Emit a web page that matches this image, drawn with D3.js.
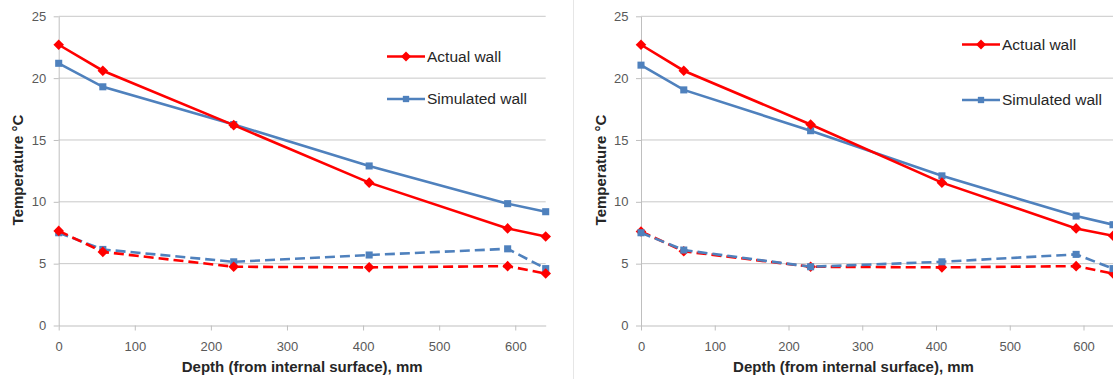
<!DOCTYPE html>
<html><head><meta charset="utf-8">
<script src="https://cdn.jsdelivr.net/npm/d3@7"></script>
<style>body{margin:0;background:#fff;}svg{display:block;font-family:"Liberation Sans",Arial,sans-serif;}</style>
</head><body>
<svg id="c" width="1113" height="379"></svg>
<script>
const depths = [0, 58, 230, 408, 590, 640];
const xTicks = [0, 100, 200, 300, 400, 500, 600];
const yTicks = [0, 5, 10, 15, 20, 25];
const seriesNames = ["Actual wall", "Simulated wall"];
// Left panel
const leftActualInner = [22.7, 20.6, 16.2, 11.55, 7.85, 7.2];
const leftSimInner    = [21.2, 19.3, 16.25, 12.9, 9.85, 9.2];
const leftActualOuter = [7.65, 5.95, 4.75, 4.7, 4.8, 4.2];
const leftSimOuter    = [7.5, 6.15, 5.15, 5.7, 6.2, 4.6];
// Right panel
const rightActualInner = [22.7, 20.6, 16.25, 11.55, 7.85, 7.25];
const rightSimInner    = [21.05, 19.05, 15.75, 12.1, 8.85, 8.15];
const rightActualOuter = [7.6, 6.0, 4.75, 4.7, 4.8, 4.2];
const rightSimOuter    = [7.5, 6.1, 4.75, 5.15, 5.75, 4.6];
const xTitle = "Depth (from internal surface), mm";
const yTitle = "Temperature °C";

const RED = "#ff0000", BLUE = "#4f81bd";
const svg = d3.select("#c");
const diamondSym = { draw(ctx, size) { const r = Math.sqrt(size / 2); ctx.moveTo(0, -r); ctx.lineTo(r, 0); ctx.lineTo(0, r); ctx.lineTo(-r, 0); ctx.closePath(); } };

function panel(cfg) {
  const g = svg.append("g");
  const x = d3.scaleLinear().domain([0, 640]).range([cfg.x0, cfg.x1]);
  const y = d3.scaleLinear().domain([0, 25]).range([325.5, 16.3]);
  g.selectAll(".grid").data(yTicks.filter(d => d > 0)).join("line")
    .attr("x1", cfg.x0).attr("x2", cfg.x1)
    .attr("y1", d => y(d)).attr("y2", d => y(d))
    .attr("stroke", "#c8c8c8").attr("stroke-width", 1);
  const xa = g.append("g").attr("transform", `translate(0,${y(0)})`)
    .call(d3.axisBottom(x).tickValues(xTicks).tickSize(5).tickSizeOuter(0).tickFormat(d3.format("d")));
  const ya = g.append("g").attr("transform", `translate(${cfg.x0},0)`)
    .call(d3.axisLeft(y).tickValues(yTicks).tickSize(5).tickSizeOuter(0).tickFormat(d3.format("d")));
  [xa, ya].forEach(a => {
    a.select(".domain").attr("stroke", "#bfbfbf");
    a.selectAll(".tick line").attr("stroke", "#bfbfbf");
    a.selectAll(".tick text").attr("fill", "#595959").attr("font-size", 13);
  });
  xa.selectAll(".tick text").attr("dy", "1.35em");
  ya.selectAll(".tick text").attr("dx", "-0.35em");

  const line = d3.line().x((d, i) => x(depths[i])).y(d => y(d));
  const series = [
    {v: cfg.simOuter, c: BLUE, dash: "10,5", m: "square"},
    {v: cfg.actOuter, c: RED, dash: "10,5", m: "diamond"},
    {v: cfg.simInner, c: BLUE, dash: null, m: "square"},
    {v: cfg.actInner, c: RED, dash: null, m: "diamond"}
  ];
  if (cfg.outerRedFirst) { const t = series[0]; series[0] = series[1]; series[1] = t; }
  series.forEach(s => {
    g.append("path").datum(s.v).attr("d", line).attr("fill", "none")
      .attr("stroke", s.c).attr("stroke-width", 2.6)
      .attr("stroke-dasharray", s.dash);
    const sym = d3.symbol().type(s.m === "square" ? d3.symbolSquare : diamondSym)
      .size(s.m === "square" ? 50 : 56);
    g.selectAll(null).data(s.v).join("path")
      .attr("transform", (d, i) => `translate(${x(depths[i])},${y(d)})`)
      .attr("d", sym).attr("fill", s.c);
  });
  [[seriesNames[0], RED, diamondSym, 50, cfg.legY[0]],
   [seriesNames[1], BLUE, d3.symbolSquare, 40, cfg.legY[1]]].forEach(([t, c, sy, sz, ly]) => {
    g.append("line").attr("x1", cfg.legX).attr("x2", cfg.legX + 38)
      .attr("y1", ly).attr("y2", ly).attr("stroke", c).attr("stroke-width", 2.6);
    g.append("path").attr("transform", `translate(${cfg.legX + 19},${ly})`)
      .attr("d", d3.symbol().type(sy).size(sz)()).attr("fill", c);
    g.append("text").attr("x", cfg.legX + 40).attr("y", ly).attr("dy", "0.35em")
      .attr("font-size", 15.5).attr("fill", "#262626").text(t);
  });
  g.append("text").attr("x", (cfg.x0 + cfg.titleRight) / 2).attr("y", 372)
    .attr("text-anchor", "middle").attr("font-size", 15).attr("font-weight", "bold")
    .attr("fill", "#262626").text(xTitle);
  g.append("text").attr("transform", `translate(${cfg.yTitleX},${170}) rotate(-90)`)
    .attr("text-anchor", "middle").attr("font-size", 15).attr("font-weight", "bold")
    .attr("fill", "#262626").text(yTitle);
}

panel({x0: 58.7, x1: 545.7, titleRight: 545.7, legX: 387, legY: [56.5, 99],
  actInner: leftActualInner, simInner: leftSimInner, actOuter: leftActualOuter, simOuter: leftSimOuter,
  yTitleX: 23});
panel({x0: 641, x1: 1113, titleRight: 1066, legX: 962, legY: [44.5, 100],
  actInner: rightActualInner, simInner: rightSimInner, actOuter: rightActualOuter, simOuter: rightSimOuter,
  yTitleX: 606, outerRedFirst: true});
svg.append("line").attr("x1", 573.5).attr("x2", 573.5).attr("y1", 0).attr("y2", 379)
  .attr("stroke", "#e6e6e6");
</script>
</body></html>
